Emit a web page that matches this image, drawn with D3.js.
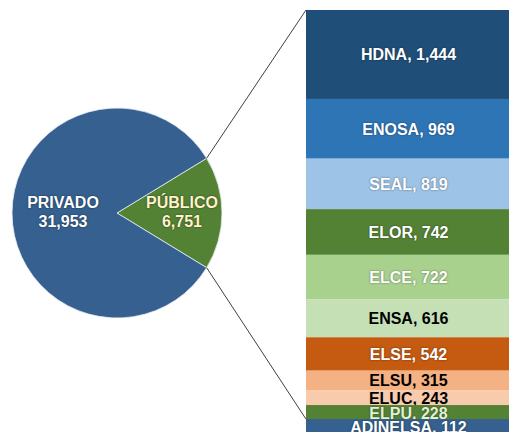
<!DOCTYPE html>
<html lang="en">
<head>
    <meta charset="UTF-8">
    <title>Bar of pie</title>
    <style>
        body { margin: 0; background: #fff; }
        text { font-family: "Liberation Sans", Arial, sans-serif; font-weight: bold; }
    </style>
</head>
<body>

    <svg id="svg" width="510" height="432"></svg>

    <script src="https://d3js.org/d3.v7.min.js"></script>
    <script>
        // pie data
        const pieLabels = ['PÚBLICO', 'PRIVADO']
        const pieValues = [6751, 31953]
        const pieColors = ['#548235', '#35608f']
        const pieTextColors = ['#fff2cc', '#ffffff']

        // bar (breakdown of PÚBLICO)
        const barLabels = ['HDNA', 'ENOSA', 'SEAL', 'ELOR', 'ELCE', 'ENSA', 'ELSE', 'ELSU', 'ELUC', 'ELPU', 'ADINELSA']
        const barValues = [1444, 969, 819, 742, 722, 616, 542, 315, 243, 228, 112]
        const barColors = ['#1f4e79', '#2e75b6', '#9dc3e6', '#548235', '#a9d18e', '#c5e0b4',
                           '#c55a11', '#f4b183', '#f8cbad', '#548235', '#35608f']
        const barTextColors = ['#fff', '#fff', '#fff', '#fff', '#fff', '#000',
                               '#fff', '#000', '#000', '#e2f0d9', '#fff']

        const fmt = d3.format(',')
        const svg = d3.select('#svg')

        // ---- pie ----
        const cx = 117, cy = 213, r = 105
        const pubShare = pieValues[0] / d3.sum(pieValues)
        const half = Math.PI * pubShare
        const pie = d3.pie().sort(null)
            .startAngle(Math.PI / 2 - half)
            .endAngle(Math.PI / 2 - half + 2 * Math.PI)
        const arcs = pie(pieValues)
        const arc = d3.arc().innerRadius(0).outerRadius(r)

        const pieG = svg.append('g').attr('transform', `translate(${cx},${cy})`)
        pieG.selectAll('path')
            .data(arcs)
            .enter()
            .append('path')
            .attr('d', arc)
            .attr('fill', (d, i) => pieColors[i])
            .attr('stroke', '#e8eef5')
            .attr('stroke-width', 0.8)

        // pie labels (two lines each)
        const labelPos = [[65, -5], [-54, -5]]
        pieG.selectAll('text.pl')
            .data(arcs)
            .enter()
            .append('text')
            .attr('class', 'pl')
            .attr('text-anchor', 'middle')
            .style('font-size', '16px')
            .style('text-shadow', '0 0 2px rgba(0,0,0,0.6)')
            .attr('fill', (d, i) => pieTextColors[i])
            .each(function (d, i) {
                const t = d3.select(this)
                t.append('tspan').attr('x', labelPos[i][0]).attr('y', labelPos[i][1]).text(pieLabels[i])
                t.append('tspan').attr('x', labelPos[i][0]).attr('y', labelPos[i][1] + 19).text(fmt(pieValues[i]))
            })

        // ---- stacked bar ----
        const barX = 306, barW = 203
        const total = d3.sum(barValues)
        const yScale = d3.scaleLinear().domain([0, total]).range([10, 426])
        const cum = d3.cumsum(barValues)
        const starts = barValues.map((v, i) => cum[i] - v)

        const segs = svg.append('g').selectAll('g')
            .data(barValues)
            .enter()
            .append('g')

        segs.append('rect')
            .attr('x', barX)
            .attr('y', (d, i) => yScale(starts[i]))
            .attr('width', barW)
            .attr('height', (d, i) => Math.max(yScale(cum[i]) - yScale(starts[i]), 16))
            .attr('fill', (d, i) => barColors[i])

        segs.append('text')
            .attr('x', barX + barW / 2 + 1)
            .attr('y', (d, i) => (yScale(starts[i]) + Math.max(yScale(cum[i]), yScale(starts[i]) + 16)) / 2)
            .attr('dy', '0.36em')
            .attr('text-anchor', 'middle')
            .style('font-size', '16px')
            .style('text-shadow', (d, i) => barTextColors[i] === '#000' ? 'none' : '0 0 2px rgba(0,0,0,0.5)')
            .attr('fill', (d, i) => barTextColors[i])
            .text((d, i) => `${barLabels[i]}, ${fmt(d)}`)

        // ---- connector lines ----
        const a0 = arcs[0].startAngle, a1 = arcs[0].endAngle
        const p0 = [cx + r * Math.sin(a0), cy - r * Math.cos(a0)]
        const p1 = [cx + r * Math.sin(a1), cy - r * Math.cos(a1)]
        const lastTop = yScale(starts[starts.length - 1])

        svg.append('path')
            .attr('d', d3.line()([p0, [barX, yScale(0)]]))
            .attr('stroke', '#404040')
            .attr('fill', 'none')
        svg.append('path')
            .attr('d', d3.line()([p1, [barX, lastTop]]))
            .attr('stroke', '#404040')
            .attr('fill', 'none')
    </script>
</body>
</html>
